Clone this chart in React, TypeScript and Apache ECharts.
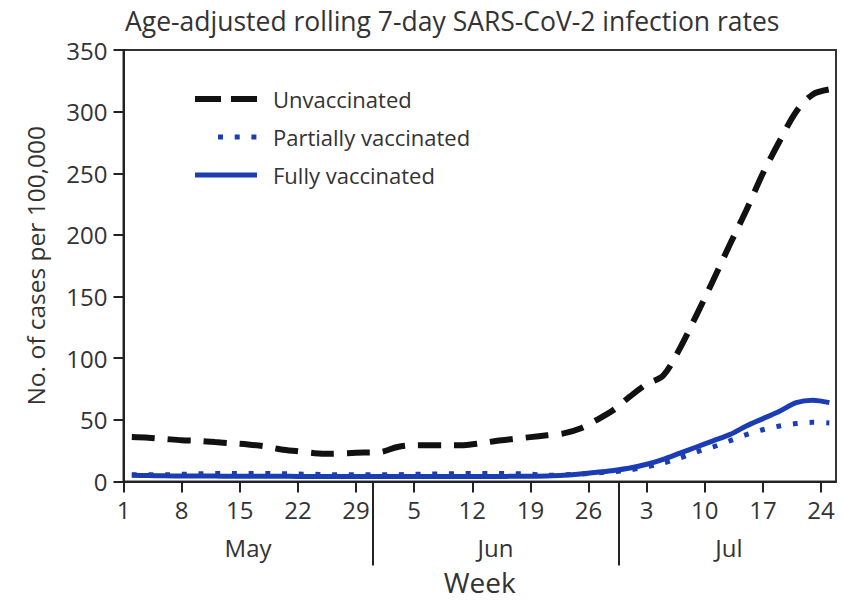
import React, { useEffect, useRef } from "react";
import * as echarts from "echarts";

// Day index: 0 = May 1
const DAYS = [1, 3, 5, 7, 9, 11, 13, 15, 17, 19, 21, 23, 25, 27, 29, 31, 33, 35, 37, 39, 41, 43, 45, 47, 49, 51, 53, 55, 57, 59, 61, 63, 65, 67, 69, 71, 73, 75, 77, 79, 81, 83, 85];
const UNVACCINATED = [36, 35.5, 34.5, 33.5, 33, 32, 31, 30, 28.5, 26, 24.5, 23, 22.5, 23, 23.5, 24, 28, 29.5, 29.5, 29.5, 29.5, 31, 33, 34.5, 36, 37.5, 39, 43, 50, 58, 69, 79, 86, 108, 135, 163, 192, 220, 250, 276, 300, 314, 318];
const PARTIALLY = [5.5, 5.5, 5.5, 5.8, 6.2, 6.5, 6.5, 6.5, 6.5, 6.3, 6, 5.8, 5.5, 5.5, 5.5, 5.5, 5.5, 5.8, 6, 6.2, 6.5, 6.5, 6.5, 6.3, 6, 5, 5.5, 6, 7, 8, 9.5, 12, 15, 19, 24, 28, 33, 38, 42, 45, 47, 48, 47.5];
const FULLY = [5, 4.8, 4.6, 4.5, 4.5, 4.4, 4.3, 4.3, 4.2, 4.2, 4.1, 4, 4, 4, 4, 4, 4, 4, 4, 4, 4, 4, 4.1, 4.2, 4.3, 4.5, 5, 6, 7.5, 9, 11, 14, 18, 23, 28, 33, 38, 45, 51, 57, 64, 66, 64];

const TICK_DAYS = [0, 7, 14, 21, 28, 35, 42, 49, 56, 63, 70, 77, 84];
const TICK_LABELS = ["1", "8", "15", "22", "29", "5", "12", "19", "26", "3", "10", "17", "24"];
const MONTH_SEPARATORS = [30, 59.6];
const MONTH_CENTERS = [15, 44.8, 72.9];
const MONTHS = ["May", "Jun", "Jul"];

const FONT = "Open Sans";
const BLUE = "#1b3db4";
const BLACK = "#111";
const TEXT = "#333";

export default function App() {
  const ref = useRef<HTMLDivElement>(null);
  useEffect(() => {
    if (!ref.current) return;
    const chart = echarts.init(ref.current, null, { renderer: "svg" });
    const pair = (arr: number[]) => DAYS.map((d, i) => [d, arr[i]]);
    const hidden = { opacity: 0 };
    chart.setOption({
      animation: false,
      backgroundColor: "#fff",
      title: {
        text: "Age-adjusted rolling 7-day SARS-CoV-2 infection rates",
        left: 120,
        top: 2,
        textStyle: { fontFamily: FONT, fontSize: 26.5, fontWeight: "normal", color: TEXT },
      },
      legend: {
        orient: "vertical",
        left: 187,
        top: 83,
        itemWidth: 62,
        itemHeight: 14,
        itemGap: 16,
        textStyle: { fontFamily: FONT, fontSize: 22, lineHeight: 22, color: TEXT, padding: [0, 0, 0, 11] },
        data: [
          { name: "Unvaccinated", itemStyle: hidden, lineStyle: { width: 6, type: [26, 10, 26, 10], cap: "butt" } },
          { name: "Partially vaccinated", itemStyle: hidden, lineStyle: { width: 5, type: [0, 23, 5, 11.7, 5, 11.7, 5, 20], cap: "butt" } },
          { name: "Fully vaccinated", itemStyle: hidden, lineStyle: { width: 5, type: "solid" } },
        ],
      },
      grid: {
        left: 123.5,
        right: 9,
        top: 50,
        bottom: 119.5,
        show: true,
        borderColor: "#333",
        borderWidth: 2,
      },
      xAxis: [
        {
          type: "value",
          min: 0,
          max: 85.8,
          interval: 7,
          splitLine: { show: false },
          axisLine: { lineStyle: { color: "#222", width: 2 } },
          axisTick: { customValues: TICK_DAYS, length: 11, lineStyle: { color: "#222", width: 2 } },
          axisLabel: {
            customValues: TICK_DAYS,
            formatter: (v: number) => TICK_LABELS[TICK_DAYS.indexOf(v)] ?? "",
            fontFamily: FONT,
            fontSize: 24,
            color: TEXT,
            margin: 16,
          },
        },
        {
          type: "value",
          min: 0,
          max: 85.8,
          position: "bottom",
          splitLine: { show: false },
          axisLine: { show: false },
          axisTick: { customValues: MONTH_SEPARATORS, length: 84, lineStyle: { color: "#222", width: 2 } },
          axisLabel: {
            customValues: MONTH_CENTERS,
            formatter: (v: number) => MONTHS[MONTH_CENTERS.indexOf(v)] ?? "",
            fontFamily: FONT,
            fontSize: 24,
            color: TEXT,
            margin: 54,
          },
          name: "Week",
          nameLocation: "middle",
          nameGap: 86,
          nameTextStyle: { fontFamily: FONT, fontSize: 28, color: TEXT },
        },
      ],
      yAxis: {
        type: "value",
        min: 0,
        max: 350,
        interval: 50,
        splitLine: { show: false },
        axisLine: { show: true, lineStyle: { color: "#222", width: 2 } },
        axisTick: { show: true, length: 10, lineStyle: { color: "#222", width: 2 } },
        axisLabel: { fontFamily: FONT, fontSize: 24, color: TEXT, margin: 16 },
        name: "No. of cases per 100,000",
        nameLocation: "middle",
        nameGap: 76,
        nameTextStyle: { fontFamily: FONT, fontSize: 24.5, color: TEXT },
      },
      series: [
        {
          name: "Unvaccinated",
          type: "line",
          data: pair(UNVACCINATED),
          smooth: 0.3,
          symbol: "none",
          color: BLACK,
          lineStyle: { color: BLACK, width: 6, type: [23, 13], cap: "butt" },
        },
        {
          name: "Partially vaccinated",
          type: "line",
          data: pair(PARTIALLY),
          smooth: 0.3,
          symbol: "none",
          color: BLUE,
          lineStyle: { color: BLUE, width: 5, type: [5, 11.7], cap: "butt" },
        },
        {
          name: "Fully vaccinated",
          type: "line",
          data: pair(FULLY),
          smooth: 0.3,
          symbol: "none",
          color: BLUE,
          lineStyle: { color: BLUE, width: 5, type: "solid" },
        },
      ],
    });
    return () => chart.dispose();
  }, []);
  return (
    <div
      ref={ref}
      style={{ position: "fixed", left: 0, top: 0, width: 845, height: 601 }}
    />
  );
}
